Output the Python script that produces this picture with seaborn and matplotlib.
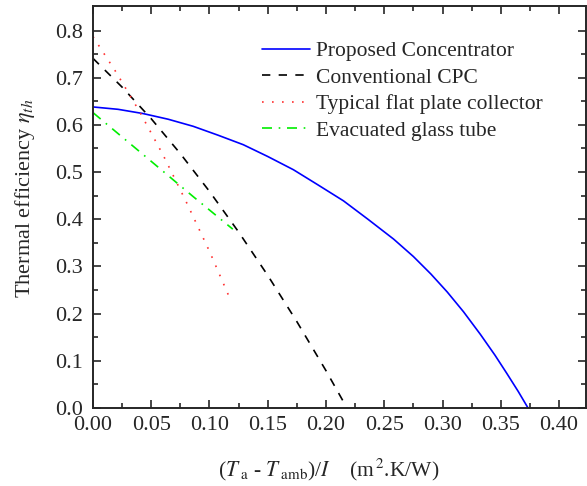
import numpy as np
import pandas as pd
import matplotlib
matplotlib.use('Agg')
import matplotlib.pyplot as plt
import seaborn as sns

# values
x_proposed = [0.000, 0.0215, 0.043, 0.0645, 0.086, 0.1075, 0.129, 0.150, 0.172, 0.193,
              0.215, 0.236, 0.258, 0.275, 0.290, 0.304, 0.318, 0.3325, 0.345, 0.355,
              0.365, 0.3734]
y_proposed = [0.638, 0.633, 0.624, 0.612, 0.597, 0.578, 0.558, 0.533, 0.505, 0.473,
              0.439, 0.400, 0.358, 0.321, 0.284, 0.246, 0.204, 0.156, 0.112, 0.074,
              0.035, 0.000]

x_cpc = [0.000, 0.025, 0.050, 0.075, 0.100, 0.125, 0.150, 0.175, 0.200, 0.218]
y_cpc = [0.741, 0.680, 0.613, 0.539, 0.459, 0.373, 0.281, 0.183, 0.079, 0.000]

x_flat = [0.000, 0.020, 0.040, 0.060, 0.080, 0.100, 0.1177]
y_flat = [0.787, 0.711, 0.628, 0.537, 0.437, 0.332, 0.231]

x_tube = [0.000, 0.046, 0.086, 0.120]
y_tube = [0.626, 0.531, 0.448, 0.379]

labels = ['Proposed Concentrator', 'Conventional CPC',
          'Typical flat plate collector', 'Evacuated glass tube']

df = pd.concat([
    pd.DataFrame({'x': x_proposed, 'y': y_proposed, 'curve': labels[0]}),
    pd.DataFrame({'x': x_cpc, 'y': y_cpc, 'curve': labels[1]}),
    pd.DataFrame({'x': x_flat, 'y': y_flat, 'curve': labels[2]}),
    pd.DataFrame({'x': x_tube, 'y': y_tube, 'curve': labels[3]}),
])

sns.set_style('ticks')
plt.rcParams['font.family'] = ['Liberation Serif', 'DejaVu Serif']
plt.rcParams['mathtext.fontset'] = 'stix'

fig = plt.figure(figsize=(5.87, 4.86), dpi=100)
ax = fig.add_axes([0.1584, 0.1605, 0.8406, 0.8272])

palette = {labels[0]: '#0000ff', labels[1]: '#000000',
           labels[2]: '#ff3030', labels[3]: '#00ee00'}
dashes = {labels[0]: '', labels[1]: (5, 5),
          labels[2]: (1, 5), labels[3]: (6, 4, 1, 4)}

sns.lineplot(data=df, x='x', y='y', hue='curve', style='curve', palette=palette,
             dashes=dashes, sort=False, estimator=None, linewidth=1.2, ax=ax)

ax.set_xlim(0, 0.4235)
ax.set_ylim(0, 0.852)
ax.set_xticks(np.arange(0, 0.41, 0.05))
ax.set_xticks(np.arange(0.025, 0.42, 0.05), minor=True)
ax.set_yticks(np.arange(0, 0.81, 0.1))
ax.set_yticks(np.arange(0.05, 0.85, 0.1), minor=True)
ax.xaxis.set_major_formatter(matplotlib.ticker.FormatStrFormatter('%.2f'))
ax.yaxis.set_major_formatter(matplotlib.ticker.FormatStrFormatter('%.1f'))

ax.tick_params(which='both', direction='in', top=True, right=True, width=1.2,
               labelsize=16)
ax.tick_params(axis='x', pad=6)
ax.tick_params(axis='y', pad=7.5)
ax.tick_params(which='major', length=6)
ax.tick_params(which='minor', length=3.5)
for s in ax.spines.values():
    s.set_linewidth(1.4)

ax.set_xlabel(r'($T_{\;\mathrm{a}}$ - $T_{\;\mathrm{amb}}$)/$I$    (m$^{\,2}$.K/W)',
              fontsize=15.5)
ax.set_ylabel(r'Thermal efficiency $\eta_{th}$', fontsize=16)
ax.xaxis.set_label_coords(0.478, -0.122)
ax.yaxis.set_label_coords(-0.114, 0.522)

ax.legend(loc='upper left', bbox_to_anchor=(0.342, 0.912), frameon=False,
          fontsize=15.5, handlelength=2.25, handletextpad=0.25, labelspacing=0.3,
          borderpad=0, borderaxespad=0, title=None)

fig.savefig('out.png', dpi=100)
